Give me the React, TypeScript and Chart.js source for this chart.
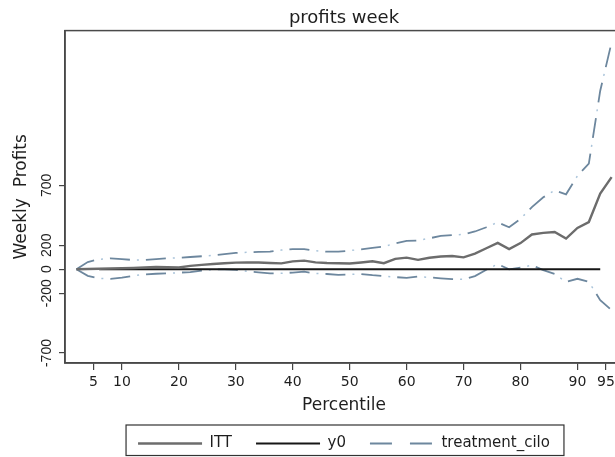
import React, { useEffect, useRef } from 'react';
import { Chart, registerables } from 'chart.js';

Chart.register(...registerables);

// ---- data ----
const percentiles = [2, 4, 6, 8, 10, 12, 14, 16, 18, 20, 22, 24, 26, 28, 30, 32, 34, 36, 38, 40, 42, 44, 46, 48, 50, 52, 54, 56, 58, 60, 62, 64, 66, 68, 70, 72, 74, 76, 78, 80, 82, 84, 86, 88, 90, 92, 94, 96];
const ittValues = [0, 2, 4, 6, 8, 10, 14, 18, 16, 14, 28, 36, 44, 50, 55, 57, 56, 52, 49, 65, 72, 57, 52, 50, 48, 56, 66, 50, 86, 97, 78, 96, 106, 110, 99, 130, 175, 220, 168, 218, 290, 303, 311, 256, 345, 394, 631, 769];
const ciUpper = [0, 60, 83, 90, 84, 77, 77, 84, 91, 96, 102, 108, 116, 126, 136, 141, 144, 146, 160, 168, 168, 155, 146, 146, 155, 166, 178, 190, 215, 236, 240, 258, 278, 285, 290, 315, 350, 392, 350, 420, 519, 600, 658, 625, 780, 881, 1490, 1894];
const ciLower = [0, -55, -76, -80, -70, -55, -43, -38, -34, -29, -24, -12, -2, -1, -5, -18, -26, -34, -34, -28, -21, -35, -40, -48, -44, -40, -50, -57, -66, -72, -62, -68, -76, -82, -84, -57, -5, 43, -1, 13, 33, -8, -40, -106, -80, -106, -258, -342];
const y0Percentiles = [6, 94];
const y0Values = [0, 0];
const xTickValues = [5, 10, 20, 30, 40, 50, 60, 70, 80, 90, 95];
const yTickValues = [-700, -200, 0, 200, 700];

const FONT = "'DejaVu Sans', sans-serif";
const FONT_V = "'Liberation Sans', Arial, sans-serif";
const TEXT = '#1e1e1e';
const AXIS = '#444444';

const pts = (xs: number[], ys: number[]) => xs.map((x, i) => ({ x, y: ys[i] }));

const framePlugin = {
  id: 'stataFrame',
  afterDraw(chart: any) {
    const { ctx, chartArea: a } = chart;
    ctx.save();
    ctx.strokeStyle = '#4a4a4a';
    ctx.lineWidth = 1.5;
    ctx.strokeRect(a.left, a.top, a.right - a.left, a.bottom - a.top);
    const hb = chart.legend && chart.legend.legendHitBoxes;
    if (hb && hb.length) {
      const first = hb[0];
      const last = hb[hb.length - 1];
      const l = first.left - 12;
      const r = last.left + last.width + 14;
      const t = first.top - 11;
      ctx.lineWidth = 1.2;
      ctx.strokeStyle = '#333333';
      ctx.strokeRect(l, t, r - l, chart.height - 1.5 - t);
    }
    ctx.restore();
  },
};

export default function App() {
  const ref = useRef<HTMLCanvasElement | null>(null);

  useEffect(() => {
    if (!ref.current) return;
    const ciDash = '#6d879e';
    const ciDot = '#aac4da';
    const chart = new Chart(ref.current, {
      type: 'line',
      data: {
        datasets: [
          { label: 'ITT', data: pts(percentiles, ittValues), borderColor: '#6c6c6c', borderWidth: 2.4 },
          { label: 'y0', data: pts(y0Percentiles, y0Values), borderColor: '#161616', borderWidth: 2 },
          { label: 'treatment_cilo', data: pts(percentiles, ciUpper), borderColor: ciDash, borderWidth: 1.8, borderDash: [20, 16] },
          { label: '', data: pts(percentiles, ciUpper), borderColor: ciDot, borderWidth: 1.5, borderDash: [2, 34], borderDashOffset: 9 },
          { label: '', data: pts(percentiles, ciLower), borderColor: ciDash, borderWidth: 1.8, borderDash: [20, 16] },
          { label: '', data: pts(percentiles, ciLower), borderColor: ciDot, borderWidth: 1.5, borderDash: [2, 34], borderDashOffset: 9 },
        ],
      },
      options: {
        animation: false,
        responsive: false,
        devicePixelRatio: 1,
        parsing: false as any,
        elements: {
          point: { radius: 0, hoverRadius: 0 },
          line: { tension: 0, fill: false, borderCapStyle: 'butt' },
        },
        layout: { padding: { left: 0, right: 57, top: 0, bottom: -4 } },
        plugins: {
          tooltip: { enabled: false },
          title: {
            display: true,
            fullSize: false,
            text: 'profits week',
            color: TEXT,
            font: { family: FONT, size: 18, weight: 'normal' },
            padding: { top: 8, bottom: 1 },
          },
          legend: {
            position: 'bottom',
            fullSize: false,
            labels: {
              usePointStyle: true,
              pointStyle: 'line',
              pointStyleWidth: 64,
              color: TEXT,
              padding: 24,
              font: { family: FONT, size: 15 },
              filter: (item: any) => item.text !== '',
              generateLabels: (c: any) => {
                const items = (Chart.defaults as any).plugins.legend.labels.generateLabels(c);
                items.forEach((it: any) => {
                  const ds: any = c.data.datasets[it.datasetIndex];
                  it.strokeStyle = ds.borderColor;
                  it.lineWidth = ds.borderWidth;
                  it.lineDash = ds.borderDash ? [22, 18] : [];
                  it.lineDashOffset = 0;
                  it.pointStyle = 'line';
                });
                return items;
              },
            },
          },
        },
        scales: {
          x: {
            type: 'linear',
            min: 0,
            max: 98,
            afterBuildTicks: (s: any) => {
              s.ticks = xTickValues.map((v) => ({ value: v }));
            },
            afterFit: (s: any) => {
              s.height = 49;
            },
            ticks: { autoSkip: false, maxRotation: 0, padding: 3.5, color: TEXT, font: { family: FONT, size: 14 } },
            grid: { drawOnChartArea: false, tickLength: 7, color: AXIS, lineWidth: 1.2 },
            border: { color: AXIS, width: 1.5 },
            title: {
              display: true,
              text: 'Percentile',
              color: TEXT,
              font: { family: FONT, size: 17 },
              padding: { top: 0, bottom: -4 },
            },
          },
          y: {
            type: 'linear',
            min: -783,
            max: 1992,
            afterBuildTicks: (s: any) => {
              s.ticks = yTickValues.map((v) => ({ value: v }));
            },
            afterFit: (s: any) => {
              s.width = 65;
            },
            ticks: {
              autoSkip: false,
              minRotation: 90,
              maxRotation: 90,
              crossAlign: 'center',
              padding: -2,
              color: TEXT,
              font: { family: FONT_V, size: 14 },
            },
            grid: { drawOnChartArea: false, tickLength: 6, color: AXIS, lineWidth: 1.2 },
            border: { color: AXIS, width: 1.5 },
            title: {
              display: true,
              text: 'Weekly  Profits',
              color: TEXT,
              font: { family: FONT, size: 17 },
              padding: { top: 11, bottom: 0 },
            },
          },
        },
      } as any,
      plugins: [framePlugin],
    });
    return () => chart.destroy();
  }, []);

  return (
    <div
      style={{
        position: 'absolute',
        left: 0,
        top: 0,
        width: 615,
        height: 457,
        overflow: 'hidden',
        background: '#ffffff',
      }}
    >
      <canvas ref={ref} width={680} height={457} style={{ display: 'block', width: 680, height: 457 }} />
    </div>
  );
}
